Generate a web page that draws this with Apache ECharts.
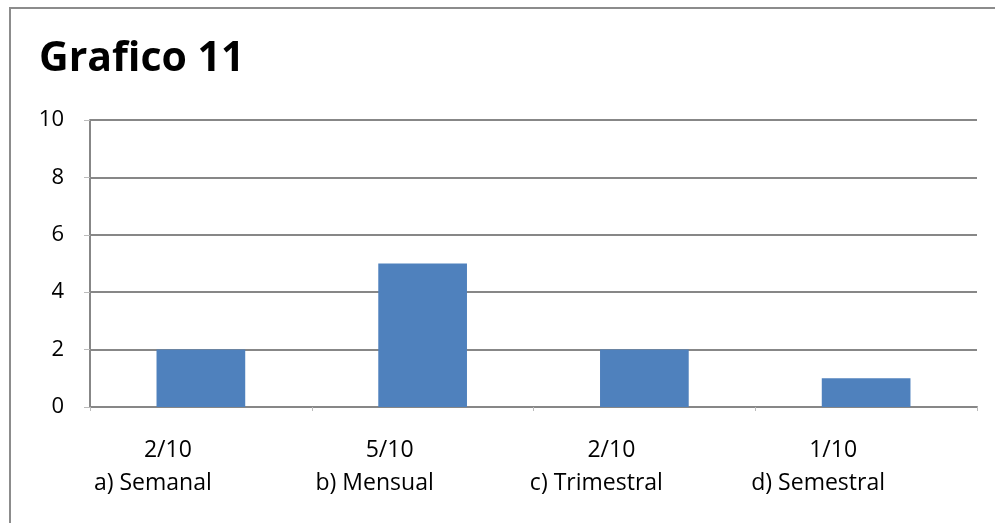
<!DOCTYPE html>
<html>
<head>
<meta charset="utf-8">
<script src="https://cdn.jsdelivr.net/npm/echarts@6/dist/echarts.min.js"></script>
<style>
  html, body { margin: 0; padding: 0; background: #fff; }
  #chart { width: 995px; height: 523px; }
</style>
</head>
<body>
<div id="chart"></div>
<script>
// Frequency answers, out of 10 respondents
const categories = ['a) Semanal', 'b) Mensual', 'c) Trimestral', 'd) Semestral'];
const fractions = ['2/10', '5/10', '2/10', '1/10'];
const values = [2, 5, 2, 1];
const yTicks = [0, 2, 4, 6, 8, 10];

const FONT = '"Open Sans", sans-serif';
const chart = echarts.init(document.getElementById('chart'));

chart.setOption({
  animation: false,
  backgroundColor: '#ffffff',
  title: {
    text: 'Grafico 11',
    left: 34,
    top: 34,
    textStyle: { fontFamily: FONT, fontSize: 41, fontWeight: 'bold', color: '#000' }
  },
  graphic: [{
    type: 'rect',
    shape: { x: 10, y: 8, width: 1000, height: 530 },
    style: { fill: 'none', stroke: '#8c8c8c', lineWidth: 2 },
    silent: true
  }],
  grid: { left: 90, right: 18, top: 120, bottom: 116 },
  xAxis: {
    type: 'category',
    data: categories,
    axisLine: { lineStyle: { color: '#878787', width: 2 } },
    axisTick: { show: true, length: 4, lineStyle: { color: '#bbbbbb' } },
    axisLabel: {
      margin: 27,
      color: '#000',
      // labels sit a little left of the bar centres
      padding: [0, 66, 0, 0],
      formatter: function (v, i) { return '{f|' + fractions[i] + '}\n{c|' + v + '}'; },
      rich: {
        f: { fontFamily: FONT, fontSize: 23, lineHeight: 33, color: '#000' },
        c: { fontFamily: FONT, fontSize: 23, lineHeight: 33, color: '#000', padding: [0, 30, 0, 0] }
      }
    }
  },
  yAxis: {
    type: 'value',
    min: yTicks[0],
    max: yTicks[yTicks.length - 1],
    interval: 2,
    axisLine: { show: true, lineStyle: { color: '#878787', width: 2 } },
    axisTick: { show: true, length: 6, lineStyle: { color: '#bbbbbb' } },
    splitLine: { lineStyle: { color: '#878787', width: 2 } },
    axisLabel: { margin: 26, fontFamily: FONT, fontSize: 22, color: '#000' }
  },
  series: [{
    type: 'bar',
    data: values,
    barWidth: '40%',
    itemStyle: { color: '#4F81BD' }
  }]
});
</script>
</body>
</html>
